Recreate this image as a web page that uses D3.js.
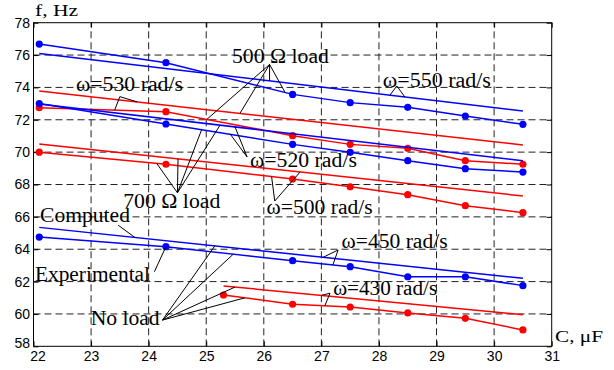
<!DOCTYPE html>
<html>
<head>
<meta charset="utf-8">
<script src="https://cdn.jsdelivr.net/npm/d3@7/dist/d3.min.js"></script>
<style>
body { margin: 0; background: #fff; }
</style>
</head>
<body>
<div id="chart"></div>
<script>
// capacitance, uF
var capExp = [22.1, 24.3, 26.5, 27.5, 28.5, 29.5, 30.5];
var cap430 = [25.3, 26.5, 27.5, 28.5, 29.5, 30.5];
var capCalc = [22.1, 30.5];
var cap430Calc = [25.3, 30.5];

// frequency, Hz - experimental points
var exp550 = [76.68, 75.53, 73.57, 73.06, 72.77, 72.23, 71.72];
var exp530 = [72.75, 72.5, 71.02, 70.48, 70.24, 69.47, 69.25];
var exp520 = [73.0, 71.74, 70.48, 69.99, 69.47, 68.98, 68.77];
var exp500 = [70.0, 69.25, 68.34, 67.86, 67.37, 66.69, 66.26];
var exp450 = [64.75, 64.16, 63.29, 62.92, 62.3, 62.3, 61.75];
var exp430 = [61.17, 60.6, 60.43, 60.06, 59.73, 59.01];

// frequency, Hz - computed lines
var calc550 = [76.1, 72.54];
var calc530 = [73.78, 70.44];
var calc520 = [72.98, 69.47];
var calc500 = [70.5, 67.29];
var calc450 = [65.35, 62.2];
var calc430 = [61.73, 59.95];

var xTicks = [22, 23, 24, 25, 26, 27, 28, 29, 30, 31];
var yTicks = [58, 60, 62, 64, 66, 68, 70, 72, 74, 76, 78];

var BLUE = "#0000ff", RED = "#ff0000";

var series = {
    e550: { xs: capExp, ys: exp550, color: BLUE, dots: true },
    c550: { xs: capCalc, ys: calc550, color: BLUE },
    e530: { xs: capExp, ys: exp530, color: RED, dots: true },
    c530: { xs: capCalc, ys: calc530, color: RED },
    e520: { xs: capExp, ys: exp520, color: BLUE, dots: true },
    c520: { xs: capCalc, ys: calc520, color: BLUE },
    e500: { xs: capExp, ys: exp500, color: RED, dots: true },
    c500: { xs: capCalc, ys: calc500, color: RED },
    e450: { xs: capExp, ys: exp450, color: BLUE, dots: true },
    c450: { xs: capCalc, ys: calc450, color: BLUE },
    e430: { xs: cap430, ys: exp430, color: RED, dots: true },
    c430: { xs: cap430Calc, ys: calc430, color: RED }
};

// labels: text baseline-left in data units, apex of pointer lines, and targets on the curves
var notes = [
    { t: "\u03c9=530 rad/s", x: 22.738, y: 73.78, w: 107, apex: [23.50, 73.43], to: [["e530", 23.41], ["c530", 23.8]] },
    { t: "500 \u03a9 load", x: 25.446, y: 75.49, w: 97, apex: [26.10, 75.42], to: [["e550", 26.37], ["c550", 26.10], ["c530", 25.585], ["e530", 25.01]] },
    { t: "\u03c9=550 rad/s", x: 28.068, y: 74.03, w: 108, apex: [28.31, 74.09], to: [["c550", 28.19], ["c550", 28.45]] },
    { t: "\u03c9=520 rad/s", x: 25.759, y: 69.10, w: 107, apex: [25.71, 69.70], to: [["c520", 25.5], ["e520", 25.42]] },
    { t: "700 \u03a9 load", x: 23.559, y: 66.53, w: 97, apex: [24.50, 67.49], to: [["e500", 24.14], ["c500", 24.51], ["e520", 24.92], ["c520", 25.24]] },
    { t: "\u03c9=500 rad/s", x: 26.049, y: 66.18, w: 106, apex: [26.19, 66.98], to: [["e500", 26.135], ["c500", 26.63]] },
    { t: "Computed", x: 22.113, y: 65.68, w: 90, apex: [23.47, 65.49], to: [["c450", 23.76]] },
    { t: "\u03c9=450 rad/s", x: 27.351, y: 64.08, w: 106, apex: [27.29, 63.95], to: [["c450", 27.03], ["e450", 27.20]] },
    { t: "Experimental", x: 22.026, y: 62.05, w: 115, apex: [24.10, 62.61], to: [["e450", 24.3]] },
    { t: "\u03c9=430 rad/s", x: 27.205, y: 61.17, w: 104, apex: [27.15, 61.28], to: [["c430", 27.00], ["e430", 27.06]] },
    { t: "No load", x: 22.993, y: 59.32, w: 69, apex: [24.24, 59.62], to: [["c450", 25.15], ["e450", 25.47], ["c430", 25.50], ["e430", 25.67]] }
];

var W = 614, H = 370;
var margin = { top: 22.7, left: 33.5, right: 62.3, bottom: 23.7 };
var serif = "'Liberation Serif', 'Times New Roman', serif";
var sans = "'Liberation Sans', Arial, sans-serif";

var svg = d3.select("#chart").append("svg")
    .attr("width", W)
    .attr("height", H)
    .style("background", "#fff");

var x = d3.scaleLinear().domain([22, 31]).range([margin.left, W - margin.right]);
var y = d3.scaleLinear().domain([58, 78]).range([H - margin.bottom, margin.top]);

// dashed grid
var grid = svg.append("g")
    .attr("stroke", "#222")
    .attr("stroke-width", 1)
    .attr("stroke-dasharray", "7,4");
grid.selectAll(".gx").data(xTicks.slice(1, -1)).enter().append("line")
    .attr("x1", function(d) { return x(d); }).attr("x2", function(d) { return x(d); })
    .attr("y1", y(58)).attr("y2", y(78));
grid.selectAll(".gy").data(yTicks.slice(1, -1)).enter().append("line")
    .attr("y1", function(d) { return y(d); }).attr("y2", function(d) { return y(d); })
    .attr("x1", x(22)).attr("x2", x(31));

// axes, ticks pointing inward
function styleAxis(g) {
    g.select(".domain").remove();
    g.selectAll(".tick line").attr("stroke", "#000");
    g.selectAll("text").attr("font-family", sans).attr("font-size", 14).attr("fill", "#000");
}
var xAx = svg.append("g").attr("transform", "translate(0," + y(58) + ")")
    .call(d3.axisBottom(x).tickValues(xTicks).tickSize(-5).tickPadding(4.5).tickFormat(d3.format("d")))
    .call(styleAxis);
// first label sits a little right of the corner, as in the original
xAx.selectAll(".tick text").filter(function(d) { return d === 22; }).attr("dx", 4);
var yAx = svg.append("g").attr("transform", "translate(" + x(22) + ",0)")
    .call(d3.axisLeft(y).tickValues(yTicks).tickSize(-5).tickPadding(3.5).tickFormat(d3.format("d")))
    .call(styleAxis);
yAx.selectAll(".tick text").filter(function(d) { return d === 58; }).attr("dy", "0.1em");
svg.append("g").attr("transform", "translate(0," + y(78) + ")")
    .call(d3.axisTop(x).tickValues(xTicks).tickSize(-5).tickFormat(""))
    .call(styleAxis);
svg.append("g").attr("transform", "translate(" + x(31) + ",0)")
    .call(d3.axisRight(y).tickValues(yTicks).tickSize(-5).tickFormat(""))
    .call(styleAxis);

svg.append("rect")
    .attr("x", x(22)).attr("y", y(78))
    .attr("width", x(31) - x(22)).attr("height", y(58) - y(78))
    .attr("fill", "none").attr("stroke", "#000").attr("stroke-width", 1);

// curves
var line = d3.line()
    .x(function(d) { return x(d[0]); })
    .y(function(d) { return y(d[1]); });

Object.keys(series).forEach(function(k) {
    var s = series[k];
    var pts = s.xs.map(function(v, i) { return [v, s.ys[i]]; });
    svg.append("path")
        .datum(pts)
        .attr("d", line)
        .attr("fill", "none")
        .attr("stroke", s.color)
        .attr("stroke-width", 1.5);
    if (s.dots) {
        svg.selectAll(".dot-" + k).data(pts).enter().append("circle")
            .attr("cx", function(d) { return x(d[0]); })
            .attr("cy", function(d) { return y(d[1]); })
            .attr("r", 3.6)
            .attr("fill", s.color);
    }
});

// value of a curve at capacitance c
function valueAt(key, c) {
    var s = series[key];
    for (var i = 0; i < s.xs.length - 1; i++) {
        if (c >= s.xs[i] && c <= s.xs[i + 1]) {
            var f = (c - s.xs[i]) / (s.xs[i + 1] - s.xs[i]);
            return s.ys[i] + f * (s.ys[i + 1] - s.ys[i]);
        }
    }
    return s.ys[0];
}

// annotations
var ann = svg.append("g");
notes.forEach(function(n) {
    n.to.forEach(function(tg) {
        ann.append("line")
            .attr("x1", x(n.apex[0])).attr("y1", y(n.apex[1]))
            .attr("x2", x(tg[1])).attr("y2", y(valueAt(tg[0], tg[1])))
            .attr("stroke", "#000")
            .attr("stroke-width", 1);
    });
    ann.append("text")
        .attr("x", x(n.x)).attr("y", y(n.y))
        .attr("font-family", serif)
        .attr("font-size", 20)
        .attr("textLength", n.w)
        .attr("lengthAdjust", "spacingAndGlyphs")
        .attr("fill", "#000")
        .text(n.t);
});

// axis titles
svg.append("text")
    .attr("x", 35).attr("y", 16)
    .attr("font-family", serif).attr("font-size", 17)
    .attr("textLength", 43).attr("lengthAdjust", "spacingAndGlyphs")
    .text("f, Hz");
svg.append("text")
    .attr("x", 555).attr("y", 341.7)
    .attr("font-family", serif).attr("font-size", 17)
    .attr("textLength", 48).attr("lengthAdjust", "spacingAndGlyphs")
    .text("C, \u03bcF");
</script>
</body>
</html>
